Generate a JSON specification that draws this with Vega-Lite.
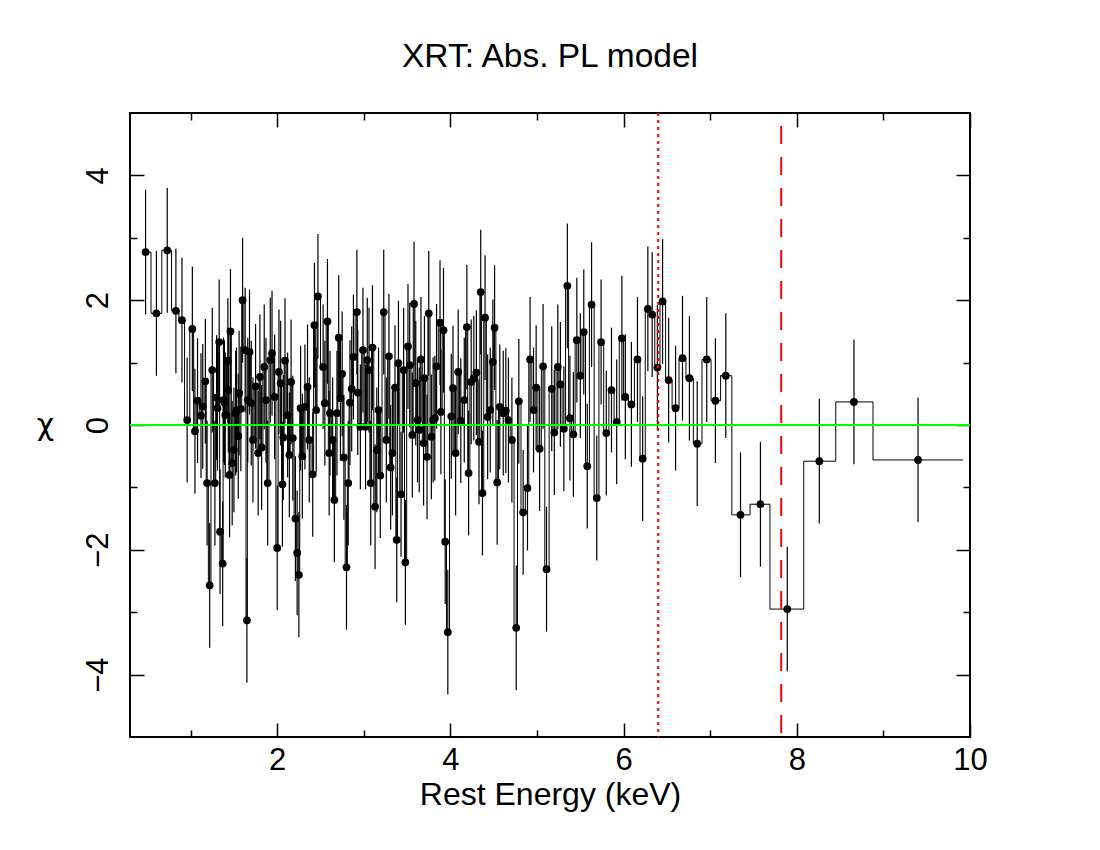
{
  "$schema": "https://vega.github.io/schema/vega-lite/v6.json",
  "width": 840,
  "height": 624,
  "autosize": {"type": "none"},
  "padding": {"left": 130, "top": 113, "right": 130, "bottom": 113},
  "background": "white",
  "title": {"text": "XRT: Abs. PL model", "fontSize": 33.5, "font": "Liberation Sans", "fontWeight": "normal", "color": "black", "offset": 38},
  "config": {
    "view": {"stroke": "black", "strokeWidth": 2},
    "axis": {"domain": false, "grid": false, "labelFont": "Liberation Sans", "titleFont": "Liberation Sans", "labelFontSize": 31, "titleFontSize": 32, "labelColor": "black", "titleColor": "black", "tickColor": "black", "tickWidth": 1.5, "titleFontWeight": "normal"}
  },
  "datasets": {
    "pts": [
      {"x":0.48,"y":2.77,"err":1},{"x":0.605,"y":1.79,"err":1},{"x":0.73,"y":2.80,"err":1},{"x":0.83,"y":1.83,"err":1},{"x":0.90,"y":1.68,"err":1},{"x":0.96,"y":0.08,"err":1},{"x":1.02,"y":1.54,"err":1},{"x":1.05,"y":-0.10,"err":1},{"x":1.08,"y":0.39,"err":1},{"x":1.12,"y":0.15,"err":1},{"x":1.14,"y":0.30,"err":1},{"x":1.17,"y":0.70,"err":1},{"x":1.19,"y":-0.93,"err":1},{"x":1.22,"y":-2.57,"err":1},{"x":1.25,"y":0.88,"err":1},{"x":1.28,"y":-0.93,"err":1},{"x":1.30,"y":0.44,"err":1},{"x":1.31,"y":0.27,"err":1},{"x":1.33,"y":1.33,"err":1},{"x":1.34,"y":-1.71,"err":1},{"x":1.37,"y":-2.22,"err":1},{"x":1.38,"y":0.40,"err":1},{"x":1.39,"y":0.36,"err":1},{"x":1.40,"y":0.16,"err":1},{"x":1.43,"y":1.03,"err":1},{"x":1.435,"y":0.56,"err":1},{"x":1.45,"y":-0.80,"err":1},{"x":1.46,"y":1.50,"err":1},{"x":1.48,"y":-0.61,"err":1},{"x":1.50,"y":-0.40,"err":1},{"x":1.52,"y":0.19,"err":1},{"x":1.53,"y":0.24,"err":1},{"x":1.55,"y":-0.18,"err":1},{"x":1.56,"y":0.51,"err":1},{"x":1.58,"y":0.26,"err":1},{"x":1.60,"y":2.00,"err":1},{"x":1.63,"y":1.20,"err":1},{"x":1.65,"y":-3.13,"err":1},{"x":1.66,"y":0.40,"err":1},{"x":1.68,"y":1.17,"err":1},{"x":1.70,"y":0.35,"err":1},{"x":1.72,"y":-0.24,"err":1},{"x":1.75,"y":0.62,"err":1},{"x":1.78,"y":-0.45,"err":1},{"x":1.80,"y":0.77,"err":1},{"x":1.82,"y":-0.36,"err":1},{"x":1.85,"y":0.93,"err":1},{"x":1.87,"y":0.40,"err":1},{"x":1.89,"y":-0.93,"err":1},{"x":1.92,"y":1.04,"err":1},{"x":1.94,"y":1.15,"err":1},{"x":1.97,"y":0.45,"err":1},{"x":2.00,"y":-1.97,"err":1},{"x":2.02,"y":0.85,"err":1},{"x":2.04,"y":0.67,"err":1},{"x":2.06,"y":-0.95,"err":1},{"x":2.07,"y":-0.20,"err":1},{"x":2.09,"y":1.03,"err":1},{"x":2.12,"y":0.16,"err":1},{"x":2.14,"y":-0.48,"err":1},{"x":2.16,"y":0.69,"err":1},{"x":2.18,"y":-0.21,"err":1},{"x":2.21,"y":-1.50,"err":1},{"x":2.23,"y":-2.05,"err":1},{"x":2.25,"y":-2.40,"err":1},{"x":2.27,"y":0.27,"err":1},{"x":2.29,"y":-0.50,"err":1},{"x":2.32,"y":0.29,"err":1},{"x":2.35,"y":0.61,"err":1},{"x":2.37,"y":-0.24,"err":1},{"x":2.41,"y":-0.79,"err":1},{"x":2.43,"y":1.60,"err":1},{"x":2.45,"y":0.24,"err":1},{"x":2.47,"y":2.06,"err":1},{"x":2.53,"y":0.93,"err":1},{"x":2.55,"y":0.35,"err":1},{"x":2.58,"y":1.66,"err":1},{"x":2.60,"y":-0.45,"err":1},{"x":2.61,"y":0.19,"err":1},{"x":2.64,"y":-0.24,"err":1},{"x":2.66,"y":-1.20,"err":1},{"x":2.69,"y":0.19,"err":1},{"x":2.71,"y":1.40,"err":1},{"x":2.73,"y":0.43,"err":1},{"x":2.75,"y":0.82,"err":1},{"x":2.77,"y":-0.52,"err":1},{"x":2.80,"y":-2.28,"err":1},{"x":2.82,"y":-0.93,"err":1},{"x":2.84,"y":0.36,"err":1},{"x":2.86,"y":0.58,"err":1},{"x":2.88,"y":1.09,"err":1},{"x":2.92,"y":1.81,"err":1},{"x":2.93,"y":0.52,"err":1},{"x":2.96,"y":-0.03,"err":1},{"x":2.99,"y":1.20,"err":1},{"x":3.02,"y":-0.03,"err":1},{"x":3.04,"y":1.04,"err":1},{"x":3.06,"y":0.88,"err":1},{"x":3.08,"y":-0.93,"err":1},{"x":3.10,"y":1.24,"err":1},{"x":3.13,"y":-1.31,"err":1},{"x":3.15,"y":-0.40,"err":1},{"x":3.17,"y":0.24,"err":1},{"x":3.19,"y":-0.81,"err":1},{"x":3.23,"y":1.81,"err":1},{"x":3.26,"y":-0.24,"err":1},{"x":3.29,"y":1.10,"err":1},{"x":3.31,"y":-0.68,"err":1},{"x":3.33,"y":-0.45,"err":1},{"x":3.36,"y":0.60,"err":1},{"x":3.38,"y":-1.84,"err":1},{"x":3.40,"y":0.99,"err":1},{"x":3.43,"y":-1.11,"err":1},{"x":3.46,"y":0.88,"err":1},{"x":3.48,"y":-2.20,"err":1},{"x":3.51,"y":1.26,"err":1},{"x":3.53,"y":0.96,"err":1},{"x":3.56,"y":-0.16,"err":1},{"x":3.58,"y":1.94,"err":1},{"x":3.60,"y":0.67,"err":1},{"x":3.62,"y":0.08,"err":1},{"x":3.64,"y":-0.08,"err":1},{"x":3.66,"y":1.05,"err":1},{"x":3.69,"y":-0.29,"err":1},{"x":3.70,"y":0.75,"err":1},{"x":3.73,"y":-0.51,"err":1},{"x":3.75,"y":1.79,"err":1},{"x":3.78,"y":-0.19,"err":1},{"x":3.80,"y":0.08,"err":1},{"x":3.82,"y":0.11,"err":1},{"x":3.84,"y":0.94,"err":1},{"x":3.88,"y":1.64,"err":1},{"x":3.89,"y":0.21,"err":1},{"x":3.92,"y":1.52,"err":1},{"x":3.94,"y":-1.87,"err":1},{"x":3.97,"y":-3.32,"err":1},{"x":4.01,"y":0.14,"err":1},{"x":4.03,"y":0.59,"err":1},{"x":4.06,"y":-0.45,"err":1},{"x":4.09,"y":0.85,"err":1},{"x":4.12,"y":0.07,"err":1},{"x":4.16,"y":0.40,"err":1},{"x":4.19,"y":1.57,"err":1},{"x":4.21,"y":-0.77,"err":1},{"x":4.24,"y":0.69,"err":1},{"x":4.27,"y":0.75,"err":1},{"x":4.30,"y":0.84,"err":1},{"x":4.33,"y":-0.27,"err":1},{"x":4.35,"y":2.13,"err":1},{"x":4.37,"y":-1.09,"err":1},{"x":4.40,"y":1.72,"err":1},{"x":4.43,"y":0.13,"err":1},{"x":4.46,"y":0.24,"err":1},{"x":4.49,"y":1.01,"err":1},{"x":4.51,"y":1.56,"err":1},{"x":4.54,"y":-0.92,"err":1},{"x":4.57,"y":0.29,"err":1},{"x":4.61,"y":0.19,"err":1},{"x":4.64,"y":0.23,"err":1},{"x":4.67,"y":0.08,"err":1},{"x":4.71,"y":-0.24,"err":1},{"x":4.76,"y":-3.25,"err":1},{"x":4.79,"y":0.38,"err":1},{"x":4.84,"y":-1.40,"err":1},{"x":4.89,"y":-1.01,"err":1},{"x":4.92,"y":1.05,"err":1},{"x":4.96,"y":0.24,"err":1},{"x":4.99,"y":0.60,"err":1},{"x":5.03,"y":-0.38,"err":1},{"x":5.07,"y":0.94,"err":1},{"x":5.11,"y":-2.31,"err":1},{"x":5.17,"y":0.58,"err":1},{"x":5.20,"y":-0.12,"err":1},{"x":5.24,"y":0.93,"err":1},{"x":5.27,"y":0.65,"err":1},{"x":5.31,"y":-0.06,"err":1},{"x":5.35,"y":2.23,"err":1},{"x":5.38,"y":0.11,"err":1},{"x":5.42,"y":-0.15,"err":1},{"x":5.46,"y":1.36,"err":1},{"x":5.50,"y":0.79,"err":1},{"x":5.54,"y":1.49,"err":1},{"x":5.58,"y":-0.66,"err":1},{"x":5.63,"y":1.93,"err":1},{"x":5.69,"y":-1.17,"err":1},{"x":5.74,"y":1.33,"err":1},{"x":5.80,"y":-0.13,"err":1},{"x":5.86,"y":0.56,"err":1},{"x":5.92,"y":0.05,"err":1},{"x":5.98,"y":1.39,"err":1},{"x":6.02,"y":0.45,"err":1},{"x":6.09,"y":0.33,"err":1},{"x":6.16,"y":1.05,"err":1},{"x":6.22,"y":-0.54,"err":1},{"x":6.28,"y":1.86,"err":1},{"x":6.33,"y":1.77,"err":1},{"x":6.39,"y":0.92,"err":1},{"x":6.45,"y":1.98,"err":1},{"x":6.52,"y":0.72,"err":1},{"x":6.60,"y":0.27,"err":1},{"x":6.68,"y":1.07,"err":1},{"x":6.76,"y":0.75,"err":1},{"x":6.85,"y":-0.30,"err":1},{"x":6.96,"y":1.05,"err":1},{"x":7.06,"y":0.39,"err":1},{"x":7.18,"y":0.79,"err":1},{"x":7.35,"y":-1.44,"err":1},{"x":7.58,"y":-1.27,"err":1},{"x":7.89,"y":-2.95,"err":1},{"x":8.26,"y":-0.58,"err":1},{"x":8.66,"y":0.37,"err":1},{"x":9.40,"y":-0.56,"err":1}
    ],
    "tail": [
      {"edge":7.12,"y":0.79},{"edge":7.25,"y":-1.44},{"edge":7.46,"y":-1.27},{"edge":7.69,"y":-2.95},{"edge":8.08,"y":-0.58},{"edge":8.45,"y":0.37},{"edge":8.88,"y":-0.56},{"edge":9.92,"y":-0.56}
    ]
  },
  "layer": [
    {
      "data": {"name": "pts"},
      "mark": {"type": "errorbar", "ticks": false, "color": "black", "thickness": 1.2},
      "encoding": {
        "x": {"field": "x", "type": "quantitative", "scale": {"domain": [0.3, 10], "nice": false, "zero": false},
              "axis": {"orient": "bottom", "title": "Rest Energy (keV)", "values": [1,2,3,4,5,6,7,8,9,10], "labelExpr": "datum.value % 2 === 0 ? datum.label : ''",
                       "tickSize": {"condition": {"test": "datum.value % 2 === 0", "value": -14}, "value": -7}, "labelPadding": 22, "titlePadding": 4, "labelFlush": false}},
        "y": {"field": "y", "type": "quantitative", "scale": {"domain": [-5, 5], "nice": false, "zero": false},
              "axis": {"orient": "left", "title": "χ", "titleFont": "DejaVu Sans", "titleAngle": 0, "titleFontSize": 30, "titleBaseline": "middle", "values": [-4,-3,-2,-1,0,1,2,3,4], "labelExpr": "datum.value % 2 === 0 ? datum.label : ''",
                       "tickSize": {"condition": {"test": "datum.value % 2 === 0", "value": -14}, "value": -7}, "labelPadding": 30, "labelAngle": -90, "titlePadding": 37}},
        "yError": {"field": "err"}
      }
    },
    {
      "data": {"name": "pts"},
      "transform": [{"filter": "datum.x < 7.2"}],
      "mark": {"type": "line", "interpolate": "step", "color": "black", "strokeWidth": 1},
      "encoding": {
        "x": {"field": "x", "type": "quantitative", "axis": null},
        "y": {"field": "y", "type": "quantitative", "axis": null}
      }
    },
    {
      "data": {"name": "tail"},
      "mark": {"type": "line", "interpolate": "step-after", "color": "black", "strokeWidth": 1},
      "encoding": {
        "x": {"field": "edge", "type": "quantitative", "axis": null},
        "y": {"field": "y", "type": "quantitative", "axis": null}
      }
    },
    {
      "data": {"name": "pts"},
      "mark": {"type": "circle", "color": "black", "opacity": 1, "size": 60},
      "encoding": {
        "x": {"field": "x", "type": "quantitative", "axis": null},
        "y": {"field": "y", "type": "quantitative", "axis": null}
      }
    },
    {
      "data": {"values": [{}]},
      "mark": {"type": "rule", "color": "#00ff00", "strokeWidth": 2},
      "encoding": {
        "y": {"datum": 0, "type": "quantitative",
              "axis": {"orient": "right", "title": null, "labels": false, "values": [-4,-3,-2,-1,0,1,2,3,4],
                       "tickSize": {"condition": {"test": "datum.value % 2 === 0", "value": -14}, "value": -7}}}
      }
    },
    {
      "data": {"values": [{}]},
      "mark": {"type": "rule", "color": "red", "strokeWidth": 2, "strokeDash": [3, 4]},
      "encoding": {
        "x": {"datum": 6.4, "type": "quantitative",
              "axis": {"orient": "top", "title": null, "labels": false, "values": [1,2,3,4,5,6,7,8,9,10],
                       "tickSize": {"condition": {"test": "datum.value % 2 === 0", "value": -14}, "value": -7}}}
      }
    },
    {
      "data": {"values": [{}]},
      "mark": {"type": "rule", "color": "red", "strokeWidth": 2, "strokeDash": [18, 13], "strokeDashOffset": 18},
      "encoding": {
        "x": {"datum": 7.82, "type": "quantitative", "axis": null}
      }
    }
  ]
}
